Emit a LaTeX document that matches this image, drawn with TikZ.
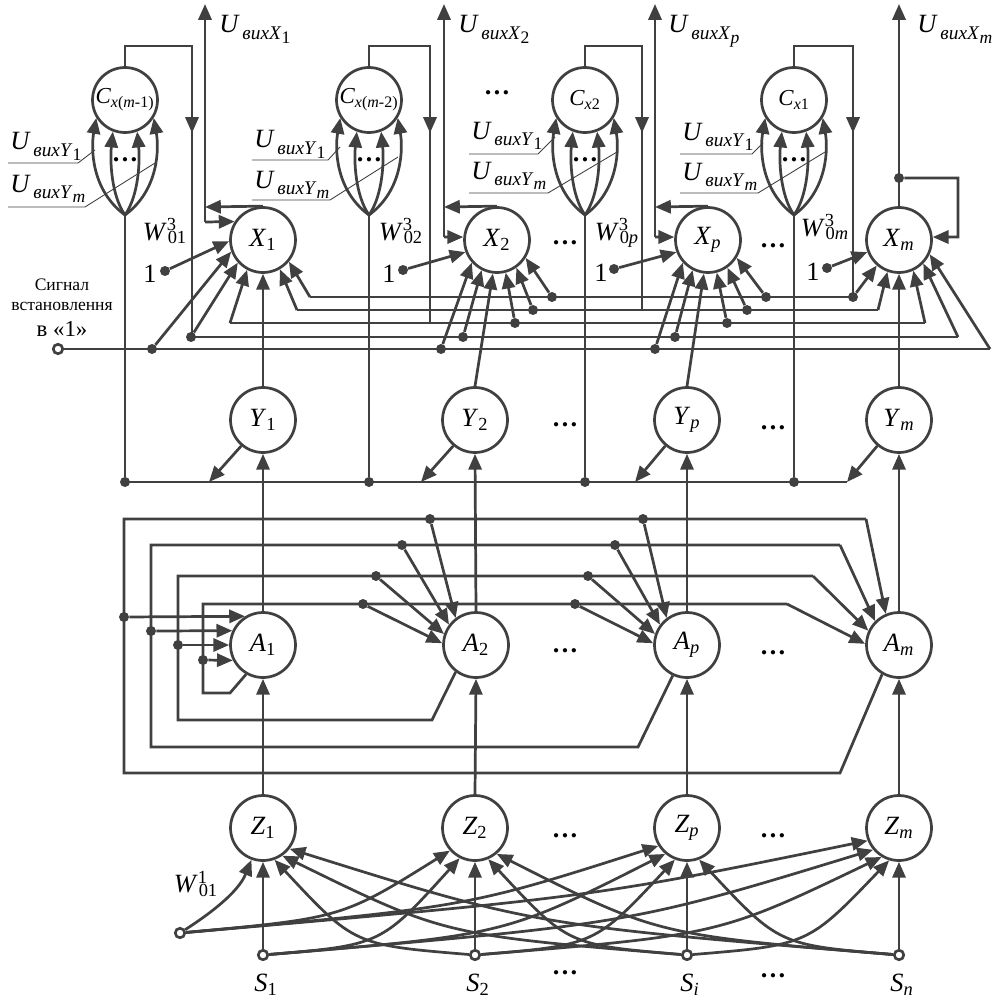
\documentclass[tikz,border=0pt]{standalone}
\usepackage{fontspec}
\setmainfont{Liberation Serif}
\usetikzlibrary{arrows.meta}
\definecolor{ln}{HTML}{404040}
\newcommand{\lab}[2]{\textit{#1}\textsubscript{#2}}
\newcommand{\ulab}[2]{\textit{U}\kern1.5pt\raisebox{-3.5pt}{\fontsize{11}{11}\selectfont\textit{вих#1}\raisebox{-2.2pt}{\fontsize{10}{10}\selectfont #2}}}
\newcommand{\wlab}[3]{\textit{#1}\textsuperscript{\rlap{#2}}\textsubscript{#3}}
\newcommand{\ddd}{\textbf{…}}
\begin{document}
\begin{tikzpicture}[x=0.02cm,y=-0.02cm,
  wire/.style={draw=ln,line width=1.55pt},
  arr/.style={wire,-{Triangle[length=9pt,width=7.5pt]}},
  thinl/.style={draw=ln,line width=0.5pt},
  neu/.style={circle,draw=ln,line width=1.55pt,fill=white,minimum size=1.3cm,inner sep=0pt,font=\fontsize{15}{18}\selectfont},
  cneu/.style={neu,font=\fontsize{13}{15}\selectfont},
  inp/.style={circle,draw=ln,line width=1.5pt,fill=white,minimum size=0.19cm,inner sep=0pt},
  dot/.style={circle,fill=ln,minimum size=0.2cm,inner sep=0pt},
  lbl/.style={font=\fontsize{15}{18}\selectfont,inner sep=0pt}]
\useasboundingbox (0,0) rectangle (996,997);

% ---------- neurons ----------
\node[cneu] (C1) at (125,100) {\textit{C}\textsubscript{\textit{x}(\textit{m}-1)}};
\node[cneu] (C2) at (369,100) {\textit{C}\textsubscript{\textit{x}(\textit{m}-2)}};
\node[cneu] (C3) at (585,100) {\textit{C}\textsubscript{\textit{x}2}};
\node[cneu] (C4) at (794,100) {\textit{C}\textsubscript{\textit{x}1}};
\node[neu] (X1) at (263,240) {\lab{X}{1}};
\node[neu] (X2) at (497,240) {\lab{X}{2}};
\node[neu] (Xp) at (708,240) {\lab{X}{\textit{p}}};
\node[neu] (Xm) at (899,240) {\lab{X}{\textit{m}}};
\node[neu] (Y1) at (263,420) {\lab{Y}{1}};
\node[neu] (Y2) at (475,420) {\lab{Y}{2}};
\node[neu] (Yp) at (687,420) {\lab{Y}{\textit{p}}};
\node[neu] (Ym) at (899,420) {\lab{Y}{\textit{m}}};
\node[neu] (A1) at (263,645) {\lab{A}{1}};
\node[neu] (A2) at (476,645) {\lab{A}{2}};
\node[neu] (Ap) at (687,645) {\lab{A}{\textit{p}}};
\node[neu] (Am) at (899,645) {\lab{A}{\textit{m}}};
\node[neu] (Z1) at (263,828) {\lab{Z}{1}};
\node[neu] (Z2) at (475,828) {\lab{Z}{2}};
\node[neu] (Zp) at (687,828) {\lab{Z}{\textit{p}}};
\node[neu] (Zm) at (899,828) {\lab{Z}{\textit{m}}};
\node[inp] (s1) at (263,955) {};
\node[inp] (s2) at (475,955) {};
\node[inp] (si) at (687,955) {};
\node[inp] (sn) at (899,955) {};
\node[inp] (bias) at (180,933) {};
\node[inp] (rst) at (58,349) {};

% ---------- C feedback loops ----------
\foreach \c/\n/\r/\e in {125/C1/192/337,369/C2/430/323,585/C3/642/310,794/C4/853/297}{
  \draw[wire] (\n.north) -- (\c,46) -- (\r,46) -- (\r,\e);
  \draw[arr] (\r,46) -- (\r,133);
  \draw[arr] (\c,215) .. controls (\c-34,190) and (\c-34,148) .. (\n.212);
  \draw[arr] (\c,215) .. controls (\c-14,195) and (\c-15,160) .. (\n.249);
  \draw[arr] (\c,215) .. controls (\c+14,195) and (\c+15,160) .. (\n.291);
  \draw[arr] (\c,215) .. controls (\c+34,190) and (\c+34,148) .. (\n.328);
  \node[lbl] at (\c,160) {\ddd};
}

% leader labels
\node[lbl,anchor=base west] at (10,150) {\ulab{Y}{1}};
\node[lbl,anchor=base west] at (10,192) {\ulab{Y}{\textit{m}}};
\draw[thinl] (8,163) -- (78,163) -- (95,150);
\draw[thinl] (8,207) -- (85,207) -- (155,163);
\node[lbl,anchor=base west] at (254,148) {\ulab{Y}{1}};
\node[lbl,anchor=base west] at (254,188) {\ulab{Y}{\textit{m}}};
\draw[thinl] (252,160) -- (328,160) -- (340,147);
\draw[thinl] (252,200) -- (330,200) -- (398,157);
\node[lbl,anchor=base west] at (471,139) {\ulab{Y}{1}};
\node[lbl,anchor=base west] at (471,179) {\ulab{Y}{\textit{m}}};
\draw[thinl] (469,154) -- (538,154) -- (555,137);
\draw[thinl] (469,193) -- (548,193) -- (617,152);
\node[lbl,anchor=base west] at (682,140) {\ulab{Y}{1}};
\node[lbl,anchor=base west] at (682,180) {\ulab{Y}{\textit{m}}};
\draw[thinl] (680,154) -- (752,154) -- (763,143);
\draw[thinl] (680,193) -- (758,193) -- (825,152);

\node[lbl] at (497,93) {\ddd};

% ---------- X outputs ----------
\coordinate (f1) at (205,222);
\coordinate (f2) at (444,237);
\coordinate (fp) at (655,237);
\draw[arr] (X1.north) -- (205,207);
\draw[arr] (f1) -- (205,4);
\draw[arr] (f1) -- (X1.147);
\draw[arr] (X2.north) -- (444,207);
\draw[arr] (f2) -- (444,4);
\draw[arr] (f2) -- (X2.175);
\draw[arr] (Xp.north) -- (655,207);
\draw[arr] (fp) -- (655,4);
\draw[arr] (fp) -- (Xp.175);
\node[dot] (jm) at (899,178) {};
\draw[arr] (Xm.north) -- (899,4);
\draw[arr] (jm) -- (958,178) -- (958,237) -- (Xm.5);

\node[lbl,anchor=base west] at (219,33) {\ulab{X}{1}};
\node[lbl,anchor=base west] at (458,33) {\ulab{X}{2}};
\node[lbl,anchor=base west] at (668,33) {\ulab{X}{\textit{p}}};
\node[lbl,anchor=base west] at (917,33) {\ulab{X}{\textit{m}}};

% W^3 bias inputs
\node[dot] (w1) at (165,271) {};
\node[dot] (w2) at (403,270) {};
\node[dot] (wp) at (614,269) {};
\node[dot] (wm) at (827,268) {};
\node[lbl] at (150,274) {1};
\node[lbl] at (389,274) {1};
\node[lbl] at (601,273) {1};
\node[lbl] at (813,272) {1};
\draw[arr] (w1) -- (X1.182);
\draw[arr] (w2) -- (X2.201);
\draw[arr] (wp) -- (Xp.201);
\draw[arr] (wm) -- (Xm.201);
\node[lbl,anchor=base] at (165,240) {\wlab{W}{3}{01}};
\node[lbl,anchor=base] at (401,240) {\wlab{W}{3}{02}};
\node[lbl,anchor=base] at (617,240) {\wlab{W}{3}{0\textit{p}}};
\node[lbl,anchor=base] at (825,236) {\wlab{W}{3}{0\textit{m}}};
\node[lbl] at (565,243) {\ddd};
\node[lbl] at (773,246) {\ddd};

% ---------- X buses ----------
\draw[wire] (rst) -- (990,349);
\draw[arr] (990,349) -- (Xm.335);
\draw[wire] (191,337) -- (958,337);
\draw[arr] (958,337) -- (Xm.316);
\draw[wire] (230,323) -- (925,323);
\draw[arr] (230,323) -- (X1.242);
\draw[arr] (925,323) -- (Xm.295);
\draw[wire] (297,310) -- (878,310);
\draw[arr] (297,310) -- (X1.300);
\draw[arr] (878,310) -- (Xm.250);
\draw[wire] (310,297) -- (853,297);
\draw[arr] (310,297) -- (X1.320);
\node[dot] (c4d) at (853,297) {};
\draw[arr] (c4d) -- (Xm.229);
\node[dot] (c1d) at (191,337) {};
\draw[arr] (c1d) -- (X1.222);
\node[dot] (r1) at (152,349) {};
\draw[arr] (r1) -- (X1.200);
\foreach \nn/\x/\y/\a in {X2/441/349/222,X2/463/337/243,X2/515/323/285,X2/533/310/305,X2/552/297/328,
                          Xp/655/349/222,Xp/675/337/243,Xp/727/323/285,Xp/747/310/305,Xp/766/297/328}{
  \node[dot] (b\nn\a) at (\x,\y) {};
  \draw[arr] (b\nn\a) -- (\nn.\a);
}

% ---------- Y layer ----------
\draw[arr] (Y1.north) -- (X1.south);
\draw[arr] (Y2.north) -- (X2.263);
\draw[arr] (Yp.north) -- (Xp.263);
\draw[arr] (Ym.north) -- (Xm.south);
\draw[wire] (125,482) -- (847,482);
\draw[arr] (Y1.230) -- (209,482);
\draw[arr] (Y2.230) -- (421,482);
\draw[arr] (Yp.230) -- (635,482);
\draw[arr] (Ym.230) -- (847,482);
\foreach \x in {125,369,585,794}{
  \node[dot] (yb\x) at (\x,482) {};
  \draw[wire] (yb\x) -- (\x,215);
}
\node[lbl] at (565,425) {\ddd};
\node[lbl] at (773,428) {\ddd};

\node[font=\fontsize{10}{12}\selectfont] at (62,285) {Сигнал};
\node[font=\fontsize{10}{12}\selectfont] at (62,306) {встановлення};
\node[font=\fontsize{13}{15}\selectfont] at (62,329) {в «1»};

% ---------- A layer ----------
\draw[arr] (A1.north) -- (Y1.south);
\draw[arr] (A2.north) -- (Y2.south);
\draw[arr] (Ap.north) -- (Yp.south);
\draw[arr] (Am.north) -- (Ym.south);

\draw[wire] (A1.240) -- (230,693) -- (203,693) -- (203,604) -- (787,604);
\draw[arr] (787,604) -- (Am.178);
\draw[wire] (A2.233) -- (432,720) -- (178,720) -- (178,576) -- (813,576);
\draw[arr] (813,576) -- (Am.155);
\draw[wire] (Ap.245) -- (638,747) -- (151,747) -- (151,545) -- (840,545);
\draw[arr] (840,545) -- (Am.135);
\draw[wire] (Am.240) -- (840,773) -- (124,773) -- (124,519) -- (866,519);
\draw[arr] (866,519) -- (Am.113);
\foreach \nn/\x/\y/\a in {A2/363/604/177,Ap/575/604/177,A1/203/660/207,
                          A2/376/576/161,Ap/588/576/161,A1/178/645/180,
                          A2/402/545/143,Ap/615/545/143,A1/151/631/155,
                          A2/430/519/127,Ap/643/519/127,A1/124/617/122}{
  \node[dot] (a\nn\a) at (\x,\y) {};
  \draw[arr] (a\nn\a) -- (\nn.\a);
}
\node[lbl] at (565,651) {\ddd};
\node[lbl] at (773,653) {\ddd};

% ---------- Z layer ----------
\draw[arr] (Z1.north) -- (A1.south);
\draw[arr] (Z2.north) -- (A2.south);
\draw[arr] (Zp.north) -- (Ap.south);
\draw[arr] (Zm.north) -- (Am.south);

\draw[arr] (bias) .. controls (208,915) and (238,893) .. (Z1.250);
\draw[arr] (bias) .. controls (342,918) .. (Z2.222);
\draw[arr] (bias) .. controls (467,907) .. (Zp.212);
\draw[arr] (bias) .. controls (593,897) .. (Zm.202);
\draw[arr] (s1) -- (Z1.south);
\draw[arr] (s1) .. controls (381,945) .. (Z2.243);
\draw[arr] (s1) .. controls (505,935) .. (Zp.230);
\draw[arr] (s1) .. controls (630,924) .. (Zm.220);
\draw[arr] (s2) .. controls (354,945) .. (Z1.290);
\draw[arr] (s2) -- (Z2.south);
\draw[arr] (s2) .. controls (595,945) .. (Zp.249);
\draw[arr] (s2) .. controls (719,935) .. (Zm.239);
\draw[arr] (si) .. controls (444,935) .. (Z1.305);
\draw[arr] (si) .. controls (568,945) .. (Z2.293);
\draw[arr] (si) -- (Zp.south);
\draw[arr] (si) .. controls (808,945) .. (Zm.253);
\draw[arr] (sn) .. controls (533,925) .. (Z1.322);
\draw[arr] (sn) .. controls (657,935) .. (Z2.310);
\draw[arr] (sn) .. controls (779,945) .. (Zp.291);
\draw[arr] (sn) -- (Zm.south);

\node[lbl] at (196,884) {\wlab{W}{1}{01}};
\node[lbl] at (565,836) {\ddd};
\node[lbl] at (773,836) {\ddd};
\node[lbl] at (266,985) {\lab{S}{1}};
\node[lbl] at (478,985) {\lab{S}{2}};
\node[lbl] at (690,985) {\lab{S}{\textit{i}}};
\node[lbl] at (902,985) {\lab{S}{\textit{n}}};
\node[lbl] at (565,973) {\ddd};
\node[lbl] at (773,976) {\ddd};
\end{tikzpicture}
\end{document}
